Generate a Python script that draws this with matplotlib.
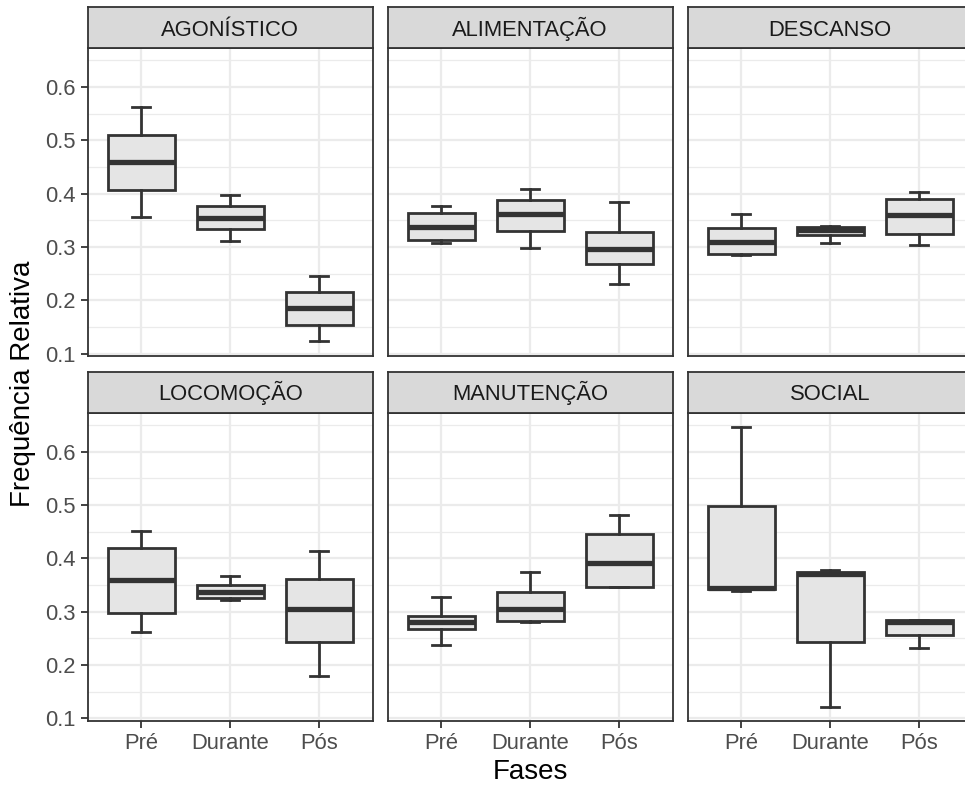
import numpy as np
import matplotlib.pyplot as plt
from matplotlib.ticker import FixedLocator

plt.rcParams['font.family'] = ['Liberation Sans', 'DejaVu Sans']

# Comportamentos (painéis) e fases
comportamentos = ["AGONÍSTICO", "ALIMENTAÇÃO", "DESCANSO",
                  "LOCOMOÇÃO", "MANUTENÇÃO", "SOCIAL"]
fases = ["Pré", "Durante", "Pós"]

# Estatísticas dos boxplots: uma linha por comportamento, uma coluna por fase
bigode_inf = [[0.356, 0.312, 0.124],
              [0.307, 0.298, 0.231],
              [0.285, 0.308, 0.303],
              [0.263, 0.322, 0.180],
              [0.238, 0.280, 0.347],
              [0.339, 0.122, 0.233]]
q1 = [[0.407, 0.333, 0.154],
      [0.313, 0.330, 0.268],
      [0.287, 0.322, 0.324],
      [0.298, 0.325, 0.243],
      [0.267, 0.283, 0.347],
      [0.342, 0.243, 0.256]]
mediana = [[0.459, 0.355, 0.186],
           [0.338, 0.362, 0.296],
           [0.310, 0.332, 0.359],
           [0.359, 0.337, 0.305],
           [0.280, 0.305, 0.391],
           [0.345, 0.370, 0.281]]
q3 = [[0.510, 0.376, 0.216],
      [0.364, 0.388, 0.329],
      [0.336, 0.338, 0.390],
      [0.419, 0.351, 0.362],
      [0.292, 0.337, 0.446],
      [0.498, 0.374, 0.285]]
bigode_sup = [[0.562, 0.397, 0.246],
              [0.377, 0.408, 0.385],
              [0.361, 0.340, 0.403],
              [0.452, 0.368, 0.414],
              [0.327, 0.375, 0.481],
              [0.646, 0.378, 0.285]]

# Escala y comum com expansão de 5% (estilo ggplot)
y_min = min(min(r) for r in bigode_inf)
y_max = max(max(r) for r in bigode_sup)
y_pad = 0.05 * (y_max - y_min)
ylim = (y_min - y_pad, y_max + y_pad)

W, H = 965, 785
fig = plt.figure(figsize=(W / 100, H / 100), dpi=100)

col_x = [87.7, 387.7, 687.7]
painel_w = 285.0
linhas = [(7.3, 48.3, 356.0), (371.7, 413.3, 720.7)]  # topo faixa, topo painel, base painel

cinza20 = "#333333"
cinza30 = "#4D4D4D"
grade = "#EBEBEB"

for i, nome in enumerate(comportamentos):
    r, c = divmod(i, 3)
    topo_faixa, topo, base = linhas[r]
    x0 = col_x[c]

    ax = fig.add_axes([x0 / W, 1 - base / H, painel_w / W, (base - topo) / H])
    faixa = fig.add_axes([x0 / W, 1 - topo / H, painel_w / W, (topo - topo_faixa) / H])

    # Faixa com o nome do comportamento
    faixa.set_facecolor("#D9D9D9")
    faixa.set_xticks([]); faixa.set_yticks([])
    for s in faixa.spines.values():
        s.set_color(cinza20); s.set_linewidth(1.3)
    faixa.text(0.5, 0.31, nome, ha="center", va="baseline", fontsize=15.8,
               color="#1A1A1A", transform=faixa.transAxes)

    stats = []
    for j, f in enumerate(fases):
        stats.append(dict(label=f, whislo=bigode_inf[i][j], q1=q1[i][j],
                          med=mediana[i][j], q3=q3[i][j], whishi=bigode_sup[i][j]))
    ax.bxp(stats, positions=[1, 2, 3], widths=0.75, capwidths=0.2,
           showfliers=False, patch_artist=True,
           boxprops=dict(facecolor="#E5E5E5", edgecolor=cinza20, linewidth=2.0),
           medianprops=dict(color=cinza20, linewidth=3.8, solid_capstyle="butt"),
           whiskerprops=dict(color=cinza20, linewidth=2.0),
           capprops=dict(color=cinza20, linewidth=2.0))

    ax.set_xlim(0.4, 3.6)
    ax.set_ylim(*ylim)
    ax.yaxis.set_major_locator(FixedLocator([0.1, 0.2, 0.3, 0.4, 0.5, 0.6]))
    ax.yaxis.set_minor_locator(FixedLocator([0.15, 0.25, 0.35, 0.45, 0.55, 0.65]))
    ax.set_axisbelow(True)
    ax.grid(True, which="major", color=grade, linewidth=1.6)
    ax.grid(True, which="minor", axis="y", color=grade, linewidth=0.9)
    ax.tick_params(which="minor", length=0)
    ax.tick_params(which="major", length=4.7, width=1.3, color=cinza20,
                   labelsize=15.8, labelcolor=cinza30, pad=4)
    for s in ax.spines.values():
        s.set_color(cinza20); s.set_linewidth(1.3)

    ax.set_xticks([1, 2, 3])
    ax.set_xticklabels(fases)
    if c != 0:
        ax.tick_params(axis="y", left=False, labelleft=False)
    else:
        ax.set_yticklabels(["0.1", "0.2", "0.3", "0.4", "0.5", "0.6"])
    if r == 0:
        ax.tick_params(axis="x", bottom=False, labelbottom=False)

fig.text(530 / W, 1 - 771.7 / H, "Fases", ha="center", va="center",
         fontsize=20, color="black")
fig.text(23 / W, 1 - 384 / H, "Frequência Relativa", ha="center", va="center",
         rotation=90, fontsize=20, color="black")

fig.savefig("out.png", dpi=100)
